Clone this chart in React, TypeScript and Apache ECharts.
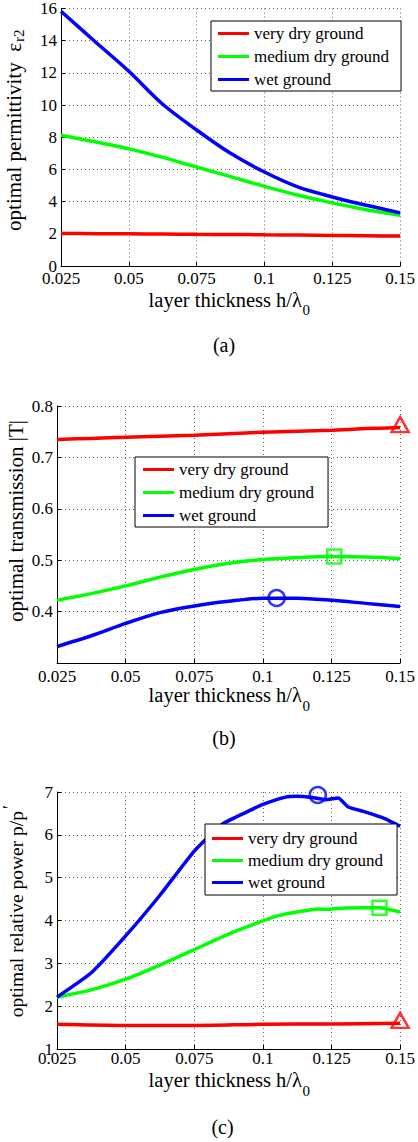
import React, { useEffect, useRef } from 'react';
import * as echarts from 'echarts';

const FONT = 'Liberation Serif';
const SERIES_NAMES = ['very dry ground', 'medium dry ground', 'wet ground'];
const COLORS = ['#ff0000', '#00ff00', '#0000ff'];

// common x samples (layer thickness h/lambda0)
const thickness = [0.025, 0.0375, 0.05, 0.0625, 0.075, 0.0875, 0.1, 0.1125, 0.125, 0.1375, 0.15];

// (a) optimal permittivity
const permVeryDry = [2.02, 2.01, 2.0, 1.99, 1.97, 1.96, 1.94, 1.92, 1.9, 1.88, 1.86];
const permMediumDry = [8.12, 7.72, 7.28, 6.75, 6.15, 5.55, 4.95, 4.4, 3.92, 3.5, 3.15];
const permWet = [15.83, 13.95, 12.1, 10.05, 8.45, 7.0, 5.84, 4.9, 4.29, 3.77, 3.3];

// (b) optimal transmission |T|
const transVeryDry = [0.735, 0.737, 0.739, 0.741, 0.743, 0.746, 0.749, 0.751, 0.753, 0.756, 0.758];
const transMediumDry = [0.422, 0.435, 0.45, 0.467, 0.482, 0.494, 0.5015, 0.505, 0.507, 0.506, 0.503];
const transWet = [0.332, 0.353, 0.377, 0.398, 0.411, 0.42, 0.426, 0.426, 0.422, 0.416, 0.41];
const transMaxX = [0.15, 0.126, 0.105];
const transMaxY = [0.758, 0.507, 0.4265];

// (c) optimal relative power p/p'
const powerVeryDryX = [0.025, 0.05, 0.075, 0.1, 0.125, 0.15];
const powerVeryDry = [1.577, 1.55, 1.55, 1.577, 1.585, 1.6];
const powerMediumDryX = [0.025, 0.0375, 0.05, 0.0625, 0.075, 0.0875, 0.1, 0.106, 0.1124, 0.1203, 0.124, 0.13, 0.1371, 0.1425, 0.15];
const powerMediumDry = [2.21, 2.38, 2.63, 2.96, 3.32, 3.68, 3.99, 4.12, 4.2, 4.27, 4.26, 4.29, 4.3, 4.3, 4.2];
const powerWetX = [0.025, 0.0375, 0.05, 0.0625, 0.075, 0.085, 0.094, 0.1, 0.1083, 0.1125, 0.118, 0.1227, 0.1275, 0.1311, 0.1375, 0.1444, 0.15];
const powerWet = [2.21, 2.78, 3.64, 4.59, 5.62, 6.24, 6.53, 6.71, 6.88, 6.9, 6.87, 6.82, 6.86, 6.65, 6.53, 6.38, 6.2];
const powerMaxX = [0.15, 0.1425, 0.12];
const powerMaxY = [1.6, 4.3, 6.93];

const xTickFormatter = (v: number) => String(Math.round(v * 1000) / 1000);

function pairs(xs: number[], ys: number[]) {
  return xs.map((x, i) => [x, ys[i]]);
}

export default function App() {
  const ref = useRef<HTMLDivElement>(null);

  useEffect(() => {
    if (!ref.current) return;
    const chart = echarts.init(ref.current, undefined, { renderer: 'svg' });

    const grids = [
      { left: 61, top: 7, width: 343, height: 259 },
      { left: 57, top: 406, width: 347, height: 257 },
      { left: 57, top: 792, width: 347, height: 257 },
    ];
    const xMargins = [4, 5, 1];
    const yCfg = [
      { min: 0, max: 16, interval: 2, fmt: (v: number) => String(v), showMin: true },
      { min: 0.3, max: 0.8, interval: 0.1, fmt: (v: number) => v.toFixed(1), showMin: false },
      { min: 1, max: 7, interval: 1, fmt: (v: number) => String(v), showMin: true },
    ];

    const splitLine = { show: true, lineStyle: { type: [1, 3] as any, color: '#666', width: 1 } };
    const labelStyle = { fontSize: 17, color: '#000', fontFamily: FONT };

    const xAxis = grids.map((_, i) => ({
      type: 'value',
      gridIndex: i,
      min: 0.025,
      max: 0.15,
      interval: 0.025,
      axisLine: { show: true, onZero: false, lineStyle: { color: '#000', width: 1 } },
      axisTick: { show: true, inside: true, length: 4, lineStyle: { color: '#000' } },
      axisLabel: { ...labelStyle, margin: xMargins[i], formatter: xTickFormatter },
      splitLine,
    }));

    const yAxis = yCfg.map((c, i) => ({
      type: 'value',
      gridIndex: i,
      min: c.min,
      max: c.max,
      interval: c.interval,
      axisLine: { show: true, onZero: false, lineStyle: { color: '#000', width: 1 } },
      axisTick: { show: true, inside: true, length: 4, lineStyle: { color: '#000' } },
      axisLabel: { ...labelStyle, margin: 4, formatter: c.fmt, showMinLabel: c.showMin },
      splitLine,
    }));

    const lineSeries = (name: string, color: string, idx: number, data: number[][], smooth: number) => ({
      type: 'line',
      name,
      xAxisIndex: idx,
      yAxisIndex: idx,
      data,
      showSymbol: false,
      smooth,
      lineStyle: { color, width: 3.5 },
      itemStyle: { color },
      z: 3,
    });

    const marker = (name: string, color: string, idx: number, x: number, y: number, symbol: string, size: any, offset: number[]) => ({
      type: 'scatter',
      name,
      xAxisIndex: idx,
      yAxisIndex: idx,
      data: [[x, y]],
      symbol,
      symbolSize: size,
      symbolOffset: offset,
      itemStyle: { color: 'rgba(0,0,0,0)', borderColor: color, borderWidth: 2.5 },
      z: 5,
    });

    const series: any[] = [
      lineSeries(SERIES_NAMES[0], COLORS[0], 0, pairs(thickness, permVeryDry), 0.3),
      lineSeries(SERIES_NAMES[1], COLORS[1], 0, pairs(thickness, permMediumDry), 0.3),
      lineSeries(SERIES_NAMES[2], COLORS[2], 0, pairs(thickness, permWet), 0.3),
      lineSeries(SERIES_NAMES[0], COLORS[0], 1, pairs(thickness, transVeryDry), 0.3),
      lineSeries(SERIES_NAMES[1], COLORS[1], 1, pairs(thickness, transMediumDry), 0.3),
      lineSeries(SERIES_NAMES[2], COLORS[2], 1, pairs(thickness, transWet), 0.3),
      lineSeries(SERIES_NAMES[0], COLORS[0], 2, pairs(powerVeryDryX, powerVeryDry), 0.3),
      lineSeries(SERIES_NAMES[1], COLORS[1], 2, pairs(powerMediumDryX, powerMediumDry), 0.15),
      lineSeries(SERIES_NAMES[2], COLORS[2], 2, pairs(powerWetX, powerWet), 0.15),
      marker('max T very dry', COLORS[0], 1, transMaxX[0], transMaxY[0], 'triangle', [17, 15], [0, -3]),
      marker('max T medium dry', COLORS[1], 1, transMaxX[1], transMaxY[1], 'rect', [14, 14], [0, 0]),
      marker('max T wet', COLORS[2], 1, transMaxX[2], transMaxY[2], 'circle', [16, 16], [0, 0]),
      marker('max P very dry', COLORS[0], 2, powerMaxX[0], powerMaxY[0], 'triangle', [17, 15], [0, -3]),
      marker('max P medium dry', COLORS[1], 2, powerMaxX[1], powerMaxY[1], 'rect', [14, 14], [0, 0]),
      marker('max P wet', COLORS[2], 2, powerMaxX[2], powerMaxY[2], 'circle', [16, 16], [0, 0]),
    ];

    const legendBase = {
      data: SERIES_NAMES,
      orient: 'vertical',
      icon: 'rect',
      itemWidth: 31,
      itemHeight: 3,
      itemGap: 6,
      borderColor: '#000',
      borderWidth: 1,
      backgroundColor: '#fff',
      selectedMode: false,
      textStyle: { ...labelStyle },
      z: 10,
    };
    const legend = [
      { ...legendBase, left: 211, top: 21, padding: [4, 12, 3, 7] },
      { ...legendBase, left: 135, top: 457, padding: [4, 14, 3, 8] },
      { ...legendBase, left: 205, top: 824, padding: [6, 14, 4, 7], itemGap: 5 },
    ];

    const t = (text: string, x: number, y: number, size: number, align: string, rot = 0) => ({
      type: 'text',
      x,
      y,
      rotation: rot,
      z: 20,
      style: { text, fontSize: size, fontFamily: FONT, fill: '#000', align, verticalAlign: 'middle' },
    });
    const R = Math.PI / 2;

    const graphic = [
      // x titles
      t('layer thickness h/\u03bb', 302, 300, 20.5, 'right'),
      t('0', 302.5, 310, 15, 'left'),
      t('layer thickness h/\u03bb', 302, 695, 20.5, 'right'),
      t('0', 302.5, 706, 15, 'left'),
      t('layer thickness h/\u03bb', 302, 1080, 20.5, 'right'),
      t('0', 302.5, 1091, 15, 'left'),
      // y titles
      t('optimal permittivity  \u03b5', 14, 43, 21, 'right', R),
      t('r2', 19, 42, 15, 'left', R),
      t('optimal transmission |T|', 16, 521, 21, 'center', R),
      t('optimal relative power p/p', 16, 811, 19.5, 'right', R),
      t('\u2032', 10, 809, 18, 'left', R),
      // captions
      t('(a)', 224, 345, 20, 'center'),
      t('(b)', 224, 738, 20, 'center'),
      t('(c)', 222.5, 1127, 20, 'center'),
    ];

    chart.setOption({
      animation: false,
      backgroundColor: '#fff',
      textStyle: { fontFamily: FONT },
      grid: grids,
      xAxis,
      yAxis,
      legend,
      series,
      graphic,
    });

    return () => chart.dispose();
  }, []);

  return <div ref={ref} style={{ position: 'absolute', left: 0, top: 0, width: 418, height: 1142 }} />;
}
